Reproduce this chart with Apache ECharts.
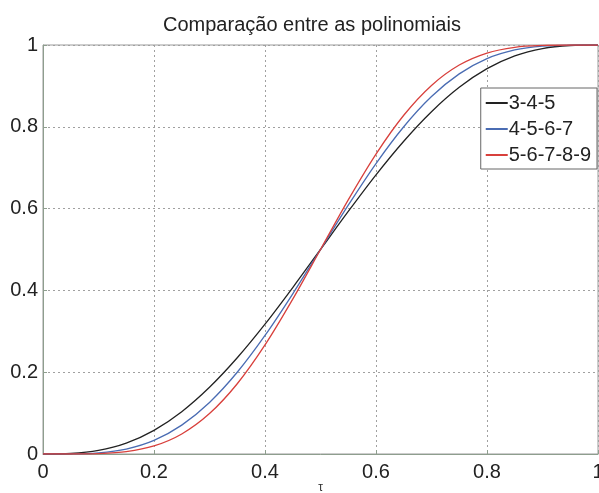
<!DOCTYPE html>
<html>
<head>
<meta charset="utf-8">
<script src="https://cdn.jsdelivr.net/npm/echarts@6/dist/echarts.min.js"></script>
<style>
  html, body { margin: 0; padding: 0; background: #fff; }
  #chart { width: 599px; height: 493px; }
</style>
</head>
<body>
<div id="chart"></div>
<script>
// tau values and the three polynomial curves
const tau = [0, 0.05, 0.1, 0.15, 0.2, 0.25, 0.3, 0.35, 0.4, 0.45, 0.5,
  0.55, 0.6, 0.65, 0.7, 0.75, 0.8, 0.85, 0.9, 0.95, 1];
const p345 = [0, 0.0012, 0.0086, 0.0266, 0.0579, 0.1035, 0.1631, 0.2352, 0.3174, 0.4069, 0.5,
  0.5931, 0.6826, 0.7648, 0.8369, 0.8965, 0.9421, 0.9734, 0.9914, 0.9988, 1];
const p4567 = [0, 0.0002, 0.0027, 0.0121, 0.0333, 0.0706, 0.1260, 0.1998, 0.2898, 0.3917, 0.5,
  0.6083, 0.7102, 0.8002, 0.8740, 0.9294, 0.9667, 0.9879, 0.9973, 0.9998, 1];
const p56789 = [0, 0.0000, 0.0009, 0.0056, 0.0196, 0.0489, 0.0988, 0.1717, 0.2666, 0.3786, 0.5,
  0.6214, 0.7334, 0.8283, 0.9012, 0.9511, 0.9804, 0.9944, 0.9991, 1.0000, 1];
const names = ['3-4-5', '4-5-6-7', '5-6-7-8-9'];
const colors = ['#222222', '#4a6cb3', '#d8403c'];

const chart = echarts.init(document.getElementById('chart'));

const toPairs = (ys) => tau.map((t, i) => [t, ys[i]]);

const option = {
  animation: false,
  title: {
    text: 'Comparação entre as polinomiais',
    left: 158,
    top: 10,
    textStyle: { fontFamily: 'Liberation Sans', fontSize: 20, fontWeight: 'normal', color: '#222' }
  },
  legend: {
    orient: 'vertical',
    right: 2,
    top: 88,
    backgroundColor: '#fff',
    borderColor: '#666',
    borderWidth: 1,
    borderRadius: 0,
    padding: [5, 6, 4, 5],
    itemGap: 6,
    itemWidth: 22,
    itemHeight: 2,
    icon: 'rect',
    textStyle: { fontFamily: 'Liberation Sans', fontSize: 20, color: '#222', padding: [0, 0, 0, -4] },
    data: names
  },
  grid: {
    show: true,
    left: 43,
    right: 1,
    top: 45,
    bottom: 39,
    outerBoundsMode: 'none',
    containLabel: false,
    borderColor: '#9a9a9a',
    borderWidth: 1
  },
  xAxis: {
    type: 'value',
    min: 0,
    max: 1,
    interval: 0.2,
    name: 'τ',
    nameLocation: 'middle',
    nameGap: 28,
    nameMoveOverlap: false,
    nameTextStyle: { fontFamily: 'Liberation Sans', fontSize: 12, color: '#333' },
    axisLine: { lineStyle: { color: '#8e9e8e' } },
    axisTick: { inside: true, length: 4, lineStyle: { color: '#8e9e8e' } },
    axisLabel: { margin: 8, fontFamily: 'Liberation Sans', fontSize: 20, color: '#222' },
    splitLine: { show: true, lineStyle: { type: [2, 3], color: '#a0a0a0' } }
  },
  yAxis: {
    type: 'value',
    min: 0,
    max: 1,
    interval: 0.2,
    axisLine: { show: true, lineStyle: { color: '#8e9e8e' } },
    axisTick: { show: true, inside: true, length: 4, lineStyle: { color: '#8e9e8e' } },
    axisLabel: { margin: 5, fontFamily: 'Liberation Sans', fontSize: 20, color: '#222' },
    splitLine: { show: true, lineStyle: { type: [2, 3], color: '#a0a0a0' } }
  },
  series: [p345, p4567, p56789].map((ys, i) => ({
    name: names[i],
    type: 'line',
    data: toPairs(ys),
    smooth: 0.3,
    symbol: 'none',
    itemStyle: { color: colors[i] },
    lineStyle: { color: colors[i], width: 1.3 }
  }))
};

chart.setOption(option);
</script>
</body>
</html>
